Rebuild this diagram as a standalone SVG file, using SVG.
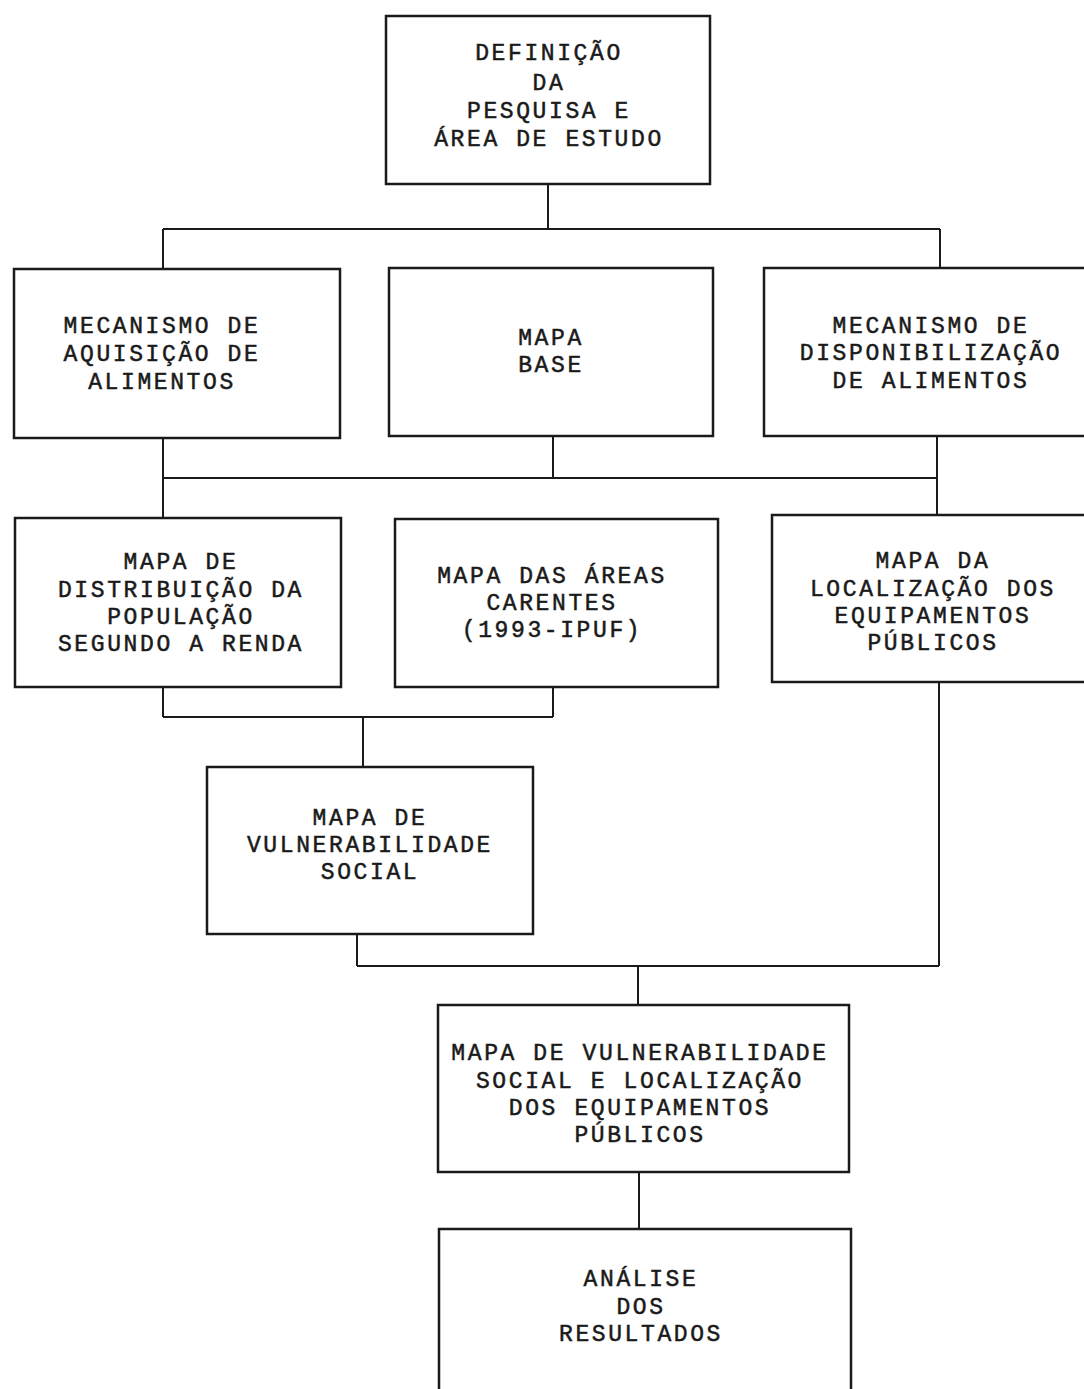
<svg xmlns="http://www.w3.org/2000/svg" width="1084" height="1389" viewBox="0 0 1084 1389">
<style>
.box{fill:#fff;stroke:#1a1a1a;stroke-width:2.5}
.ln{fill:none;stroke:#1a1a1a;stroke-width:2}
text{font-family:"Liberation Mono","Courier New",monospace;font-size:23px;letter-spacing:2.6px;fill:#1a1a1a;text-anchor:middle;stroke:#1a1a1a;stroke-width:0.5}
</style>
<rect width="1084" height="1389" fill="#fff"/>
<g id="connectors">
<path class="ln" d="M548 184V229M163 229H940M163 229V269M940 229V268"/>
<path class="ln" d="M163 438V478M553 436V478M937 436V515M163 478H937M163 478V518"/>
<path class="ln" d="M163 687V717M553 687V717M163 717H553M363 717V767"/>
<path class="ln" d="M357 934V966M357 966H939M939 682V966M638 966V1005"/>
<path class="ln" d="M639 1172V1229"/>
</g>
<g id="n1"><rect class="box" x="386" y="16" width="324" height="168"/>
<text x="549" y="60">DEFINIÇÃO</text><text x="549" y="90">DA</text><text x="549" y="118">PESQUISA E</text><text x="549" y="146">ÁREA DE ESTUDO</text></g>
<g id="n2"><rect class="box" x="14" y="269" width="326" height="169"/>
<text x="162" y="333">MECANISMO DE</text><text x="162" y="361">AQUISIÇÃO DE</text><text x="162" y="389">ALIMENTOS</text></g>
<g id="n3"><rect class="box" x="389" y="268" width="324" height="168"/>
<text x="551" y="345">MAPA</text><text x="551" y="372">BASE</text></g>
<g id="n4"><rect class="box" x="764" y="268" width="322" height="168"/>
<text x="931" y="333">MECANISMO DE</text><text x="931" y="360">DISPONIBILIZAÇÃO</text><text x="931" y="388">DE ALIMENTOS</text></g>
<g id="n5"><rect class="box" x="15" y="518" width="326" height="169"/>
<text x="181" y="569">MAPA DE</text><text x="181" y="597">DISTRIBUIÇÃO DA</text><text x="181" y="624">POPULAÇÃO</text><text x="181" y="651">SEGUNDO A RENDA</text></g>
<g id="n6"><rect class="box" x="395" y="519" width="323" height="168"/>
<text x="552" y="583">MAPA DAS ÁREAS</text><text x="552" y="610">CARENTES</text><text x="552" y="637">(1993-IPUF)</text></g>
<g id="n7"><rect class="box" x="772" y="515" width="314" height="167"/>
<text x="933" y="568">MAPA DA</text><text x="933" y="596">LOCALIZAÇÃO DOS</text><text x="933" y="623">EQUIPAMENTOS</text><text x="933" y="650">PÚBLICOS</text></g>
<g id="n8"><rect class="box" x="207" y="767" width="326" height="167"/>
<text x="370" y="825">MAPA DE</text><text x="370" y="852">VULNERABILIDADE</text><text x="370" y="879">SOCIAL</text></g>
<g id="n9"><rect class="box" x="438" y="1005" width="411" height="167"/>
<text x="640" y="1060">MAPA DE VULNERABILIDADE</text><text x="640" y="1088">SOCIAL E LOCALIZAÇÃO</text><text x="640" y="1115">DOS EQUIPAMENTOS</text><text x="640" y="1142">PÚBLICOS</text></g>
<g id="n10"><rect class="box" x="439" y="1229" width="412" height="170"/>
<text x="641" y="1286">ANÁLISE</text><text x="641" y="1314">DOS</text><text x="641" y="1341">RESULTADOS</text></g>
</svg>
